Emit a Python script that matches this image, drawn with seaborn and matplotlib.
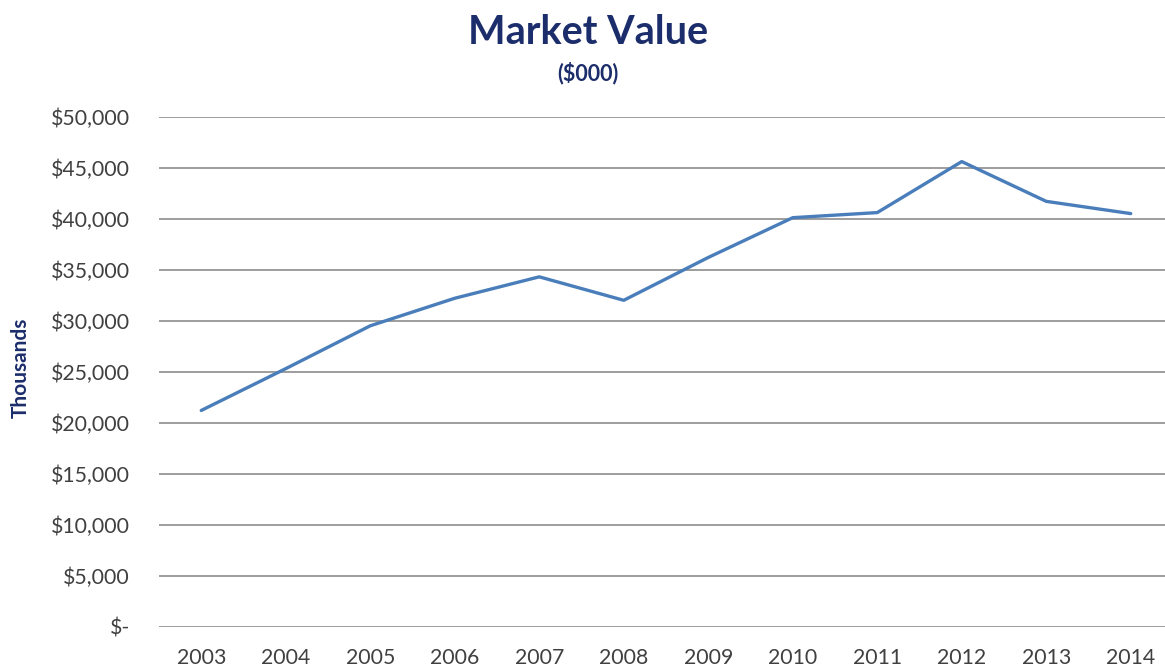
import matplotlib
matplotlib.use("Agg")
import matplotlib.pyplot as plt
import seaborn as sns
import pandas as pd

years = ["2003", "2004", "2005", "2006", "2007", "2008",
         "2009", "2010", "2011", "2012", "2013", "2014"]
market_value = [21200, 25300, 29500, 32200, 34300, 32000,
                36200, 40100, 40600, 45600, 41700, 40500]
y_ticks = [0, 5000, 10000, 15000, 20000, 25000, 30000, 35000, 40000, 45000, 50000]

df = pd.DataFrame({"Year": years, "Value": market_value})

sns.set_theme(style="white")
plt.rcParams["font.family"] = ["Lato", "DejaVu Sans"]

W, H = 1165, 670
fig = plt.figure(figsize=(W / 100, H / 100), dpi=100)
ax = fig.add_axes([159 / W, (H - 626.7) / H, 1014 / W, 510 / H])

sns.lineplot(data=df, x="Year", y="Value", ax=ax, color="#4a7ebb",
             linewidth=2.4, sort=False)

ax.set_ylim(0, 50000)
ax.set_xlim(-0.5, 11.5)
ax.set_yticks(y_ticks)
ax.set_yticklabels(["$-" if v == 0 else f"${v:,.0f}" for v in y_ticks])
ax.yaxis.grid(True, color="#8c8c8c", linewidth=1.2)
ax.xaxis.grid(False)
for s in ax.spines.values():
    s.set_visible(False)
ax.tick_params(axis="both", length=0, labelsize=15.3, labelcolor="#404040")
ax.tick_params(axis="y", pad=21)
ax.tick_params(axis="x", pad=15)
ax.set_xlabel("")
ax.set_ylabel("")

navy = "#1c2d6b"
fig.text(588 / W, 1 - 33 / H, "Market Value", ha="center", va="center",
         fontsize=28.5, fontweight="bold", color=navy)
fig.text(588 / W, 1 - 73 / H, "($000)", ha="center", va="center",
         fontsize=15.5, fontweight="bold", color=navy)
fig.text(21 / W, 1 - 368 / H, "Thousands", ha="center", va="center",
         rotation=90, fontsize=15, fontweight="bold", color=navy)

fig.savefig("out.png", dpi=100, facecolor="white")
